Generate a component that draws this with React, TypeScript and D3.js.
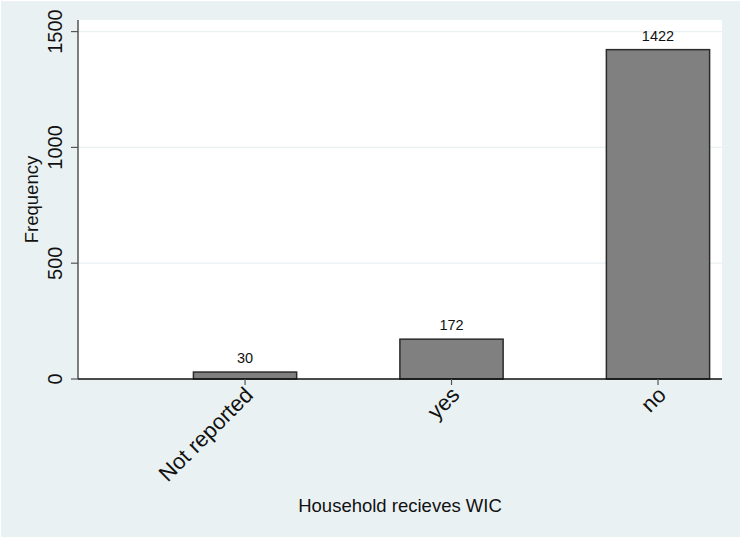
import React from "react";
import * as d3 from "d3";

const categories = ["Not reported", "yes", "no"];
const counts = [30, 172, 1422];
const yTicks = [0, 500, 1000, 1500];

const W = 740;
const H = 538;
const FONT = "'Liberation Sans', Arial, Helvetica, sans-serif";

export default function App() {
  const plot = { left: 78, right: 722, top: 20, bottom: 379 };
  const x = d3.scaleLinear().domain([0.191, 3.31]).range([plot.left, plot.right]);
  const y = d3.scaleLinear().domain([0, 1550]).range([plot.bottom, plot.top]);
  const barHalf = 0.25;

  return (
    <svg width={W} height={H} style={{ position: "absolute", left: 0, top: 0, display: "block" }}>
      <rect x={0} y={0} width={W} height={H} fill="#ffffff" />
      <rect x={1} y={1} width={W - 1} height={H - 2} fill="#EAF1F3" />
      <rect x={plot.left} y={plot.top} width={plot.right - plot.left} height={plot.bottom - plot.top} fill="#ffffff" />
      {yTicks.filter((t) => t > 0).map((t) => (
        <line key={"g" + t} x1={plot.left} x2={plot.right} y1={y(t)} y2={y(t)} stroke="#EAF1F3" strokeWidth={1.2} />
      ))}
      {counts.map((c, i) => {
        const x0 = x(i + 1 - barHalf);
        const x1 = x(i + 1 + barHalf);
        return (
          <g key={categories[i]}>
            <rect x={x0} y={y(c)} width={x1 - x0} height={y(0) - y(c)} fill="#808080" stroke="#2b2b2b" strokeWidth={1.5} />
            <text x={x(i + 1)} y={y(c) - 9} textAnchor="middle" fontFamily={FONT} fontSize={14.5} fill="#111">
              {c}
            </text>
          </g>
        );
      })}
      {/* y axis */}
      <line x1={plot.left} x2={plot.left} y1={plot.top} y2={plot.bottom} stroke="#555" strokeWidth={1.5} />
      {yTicks.map((t) => (
        <g key={"t" + t}>
          <line x1={plot.left - 7} x2={plot.left} y1={y(t)} y2={y(t)} stroke="#555" strokeWidth={1.2} />
          <text
            transform={`translate(62,${y(t)}) rotate(-90)`}
            textAnchor="middle"
            fontFamily={FONT}
            fontSize={20}
            fill="#111"
          >
            {t}
          </text>
        </g>
      ))}
      <text
        transform={`translate(38,${(plot.top + plot.bottom) / 2}) rotate(-90)`}
        textAnchor="middle"
        fontFamily={FONT}
        fontSize={18.5}
        fill="#111"
      >
        Frequency
      </text>
      {/* x axis */}
      <line x1={plot.left} x2={plot.right} y1={plot.bottom} y2={plot.bottom} stroke="#111" strokeWidth={1.5} />
      {categories.map((c, i) => (
        <g key={"x" + c}>
          <line x1={x(i + 1)} x2={x(i + 1)} y1={plot.bottom} y2={plot.bottom + 6} stroke="#555" strokeWidth={1.2} />
          <text
            transform={`translate(${x(i + 1) + 4},${plot.bottom + 12}) rotate(-45)`}
            textAnchor="end"
            dominantBaseline="central"
            fontFamily={FONT}
            fontSize={22}
            fill="#111"
          >
            {c}
          </text>
        </g>
      ))}
      <text x={(plot.left + plot.right) / 2} y={512} textAnchor="middle" fontFamily={FONT} fontSize={18.5} fill="#111">
        Household recieves WIC
      </text>
    </svg>
  );
}
